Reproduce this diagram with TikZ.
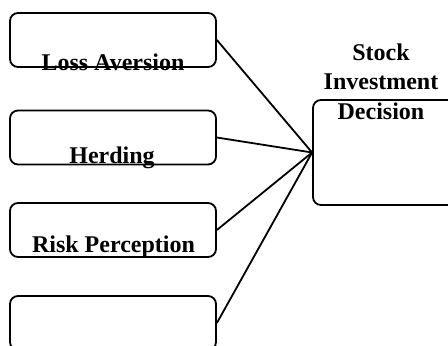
\documentclass[tikz,border=0pt]{standalone}
\usepackage{fontspec}
\setmainfont{Liberation Serif}
\begin{document}
\begin{tikzpicture}[x=1pt, y=-1pt, line width=1.8pt,
  factor node/.style={draw, rounded corners=8pt, minimum width=206pt, minimum height=54pt, inner sep=0pt},
  decision node/.style={draw, rounded corners=8pt, minimum width=147pt, minimum height=105pt, inner sep=0pt}]
        \tikzstyle{every node}=[font=\fontsize{24}{29.5}\selectfont\bfseries]
        \clip (0,0) rectangle (448,346);

          \node[factor node] (loss) at (113,40) {};
          \node[factor node] (herd) at (113,137.5) {};
          \node[factor node] (risk) at (113,230) {};
          \node[factor node] (other) at (113,323) {};
          \node[decision node] (dec) at (386.5,152.5) {};

          \node[anchor=base, inner sep=0pt] (losstxt) at (113,70) {Loss Aversion};
          \node[anchor=base, inner sep=0pt] (herdtxt) at (112,163) {Herding};
          \node[anchor=base, inner sep=0pt] (risktxt) at (113.5,252) {Risk Perception};
          \node[anchor=base, inner sep=0pt, align=center] (dectxt) at (381,119) {Stock\\Investment\\Decision};

          \path
            (loss.east) edge (dec.west)
            (herd.east) edge (dec.west)
            (risk.east) edge (dec.west)
            (other.east) edge (dec.west);

        \end{tikzpicture}
\end{document}
